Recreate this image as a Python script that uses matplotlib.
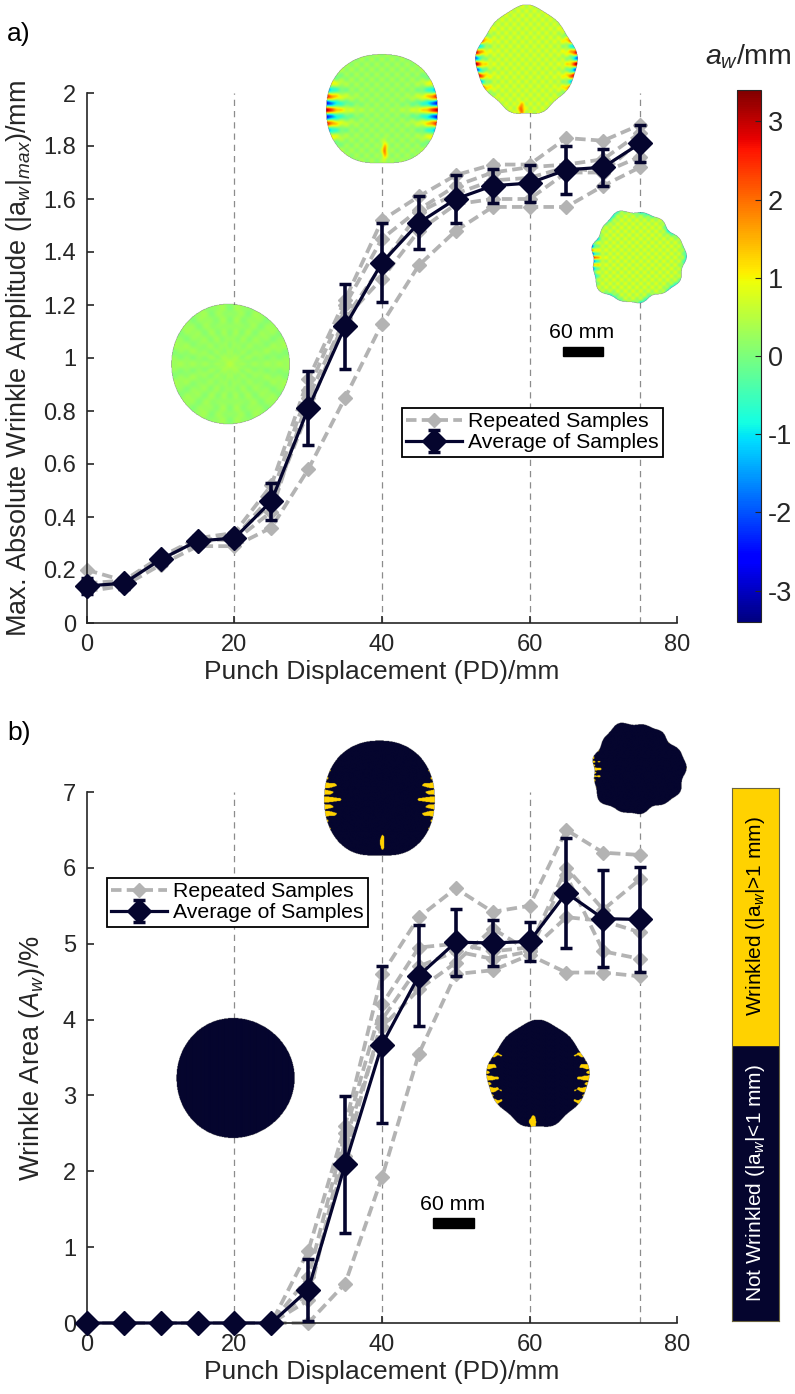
"""Wrinkle amplitude / wrinkle area vs punch displacement."""
import numpy as np
import matplotlib
matplotlib.use("Agg")
import matplotlib.pyplot as plt
from matplotlib.cm import ScalarMappable
from matplotlib.colors import ListedColormap, Normalize
from matplotlib.patches import Rectangle

# ---- data -------------------------------------------------------------
pd_mm = [0, 5, 10, 15, 20, 25, 30, 35, 40, 45, 50, 55, 60, 65, 70, 75]

amp_mean = [0.14, 0.15, 0.24, 0.31, 0.32, 0.46, 0.81, 1.12, 1.36, 1.51,
            1.60, 1.65, 1.66, 1.71, 1.72, 1.81]
amp_err = [0.03, 0.02, 0.02, 0.02, 0.02, 0.07, 0.14, 0.16, 0.15, 0.10,
           0.09, 0.065, 0.07, 0.09, 0.07, 0.07]
amp_s1 = [0.20, 0.16, 0.25, 0.32, 0.34, 0.52, 0.92, 1.22, 1.52, 1.61,
          1.69, 1.73, 1.73, 1.83, 1.82, 1.88]
amp_s2 = [0.12, 0.14, 0.22, 0.29, 0.29, 0.36, 0.58, 0.85, 1.13, 1.35,
          1.48, 1.57, 1.57, 1.57, 1.65, 1.72]
amp_s3 = [0.14, 0.15, 0.24, 0.31, 0.32, 0.48, 0.88, 1.20, 1.45, 1.56,
          1.65, 1.70, 1.72, 1.73, 1.75, 1.85]
amp_s4 = [0.13, 0.15, 0.25, 0.30, 0.33, 0.45, 0.80, 1.15, 1.30, 1.48,
          1.58, 1.60, 1.60, 1.70, 1.70, 1.76]
amp_s5 = [0.15, 0.16, 0.24, 0.32, 0.31, 0.42, 0.85, 1.15, 1.35, 1.55,
          1.62, 1.67, 1.68, 1.72, 1.70, 1.82]

area_mean = [0, 0, 0, 0, 0, 0, 0.44, 2.09, 3.67, 4.58, 5.02, 5.01, 5.03,
             5.67, 5.33, 5.32]
area_err = [0, 0, 0, 0, 0, 0, 0.41, 0.90, 1.04, 0.67, 0.44, 0.30, 0.26,
            0.72, 0.64, 0.69]
area_s1 = [0, 0, 0, 0, 0, 0, 0.95, 2.6, 4.6, 5.35, 5.73, 5.42, 5.5, 6.5, 6.2, 6.17]
area_s2 = [0, 0, 0, 0, 0, 0, 0.0, 0.52, 1.92, 3.55, 4.6, 4.65, 4.85, 4.62, 4.62, 4.57]
area_s3 = [0, 0, 0, 0, 0, 0, 0.6, 2.5, 4.2, 4.95, 5.0, 4.9, 4.95, 6.0, 5.45, 5.85]
area_s4 = [0, 0, 0, 0, 0, 0, 0.4, 2.2, 4.0, 4.7, 4.9, 4.8, 4.9, 5.9, 4.9, 4.8]
area_s5 = [0, 0, 0, 0, 0, 0, 0.3, 2.4, 3.9, 4.4, 4.75, 5.2, 4.9, 5.35, 5.3, 5.15]

guide_pd = [20, 40, 60, 75]

NAVY = "#05052e"
GOLD = "#ffd200"
GREY = "#b3b3b3"
TXT = "#262626"

W, H = 795, 1394

plt.rcParams.update({
    "font.family": ["Liberation Sans", "DejaVu Sans"],
    "mathtext.fontset": "custom",
    "mathtext.rm": "Liberation Sans",
    "mathtext.it": "Liberation Sans:italic",
    "axes.unicode_minus": False,
})

fig = plt.figure(figsize=(W / 100, H / 100), dpi=100)


def px_axes(left, top, width, height):
    return fig.add_axes([left / W, 1 - (top + height) / H, width / W, height / H])


# ---- disc snapshots (synthetic wrinkle fields) ------------------------
def grid(n=260):
    g = np.linspace(-1.08, 1.08, n)
    x, y = np.meshgrid(g, -g)
    return x, y, np.hypot(x, y), np.arctan2(y, x)


def hatch(x, y, k, a):
    return a * np.cos(k * x) * np.cos(k * y)


def field_pd20():
    x, y, r, th = grid()
    R = 1 + 0.01 * np.cos(3 * th)
    v = (0.22 + 0.10 * np.cos(18 * th) * r + 0.22 * np.exp(-r ** 2 / 0.02)
         + hatch(x, y, 30, 0.06))
    return np.where(r <= R, v, np.nan)


def field_pd40():
    x, y, r, th = grid()
    R = 0.99 / (np.abs(np.cos(th)) ** 2.2 + np.abs(np.sin(th)) ** 2.2) ** (1 / 2.2)
    R = np.minimum(R, 1.04) - 0.05 * np.exp(-(th + np.pi / 2) ** 2 / 0.15)
    edge = np.exp(-(R - r) / 0.2)
    side = np.abs(np.cos(th)) ** 10
    v = (0.25 + hatch(x, y, 35, 0.15)
         + 3.2 * edge * side * np.cos(26 * y)
         + 1.6 * np.exp(-((x - 0.05) ** 2 / 0.002 + (y + 0.72) ** 2 / 0.02)))
    return np.where(r <= R, v, np.nan)


def field_pd60():
    x, y, r, th = grid()
    R = (0.95 + 0.04 * np.cos(4 * th) + 0.05 * np.sin(th)
         - 0.05 * np.exp(-(th + np.pi / 2) ** 2 / 0.1) + 0.015 * np.sin(9 * th))
    edge = np.exp(-(R - r) / 0.1)
    side = np.abs(np.cos(th)) ** 8
    v = (0.6 + hatch(x, y, 40, 0.22)
         + 3.0 * edge * side * np.cos(30 * y)
         + 1.5 * np.exp(-((x + 0.1) ** 2 / 0.003 + (y + 0.8) ** 2 / 0.01)))
    return np.where(r <= R, v, np.nan)


def field_pd75():
    x, y, r, th = grid()
    R = (0.95 + 0.05 * np.cos(3 * th + 0.5) + 0.03 * np.sin(7 * th)
         + 0.02 * np.cos(13 * th))
    ring = np.exp(-(R - r) / 0.05)
    v = (0.6 + hatch(x, y, 40, 0.25)
         - 1.3 * ring * (0.7 + 0.5 * np.cos(9 * th))
         + 2.6 * np.exp(-(R - r) / 0.08) * np.exp(-(np.abs(th) - np.pi) ** 2 / 0.12)
         * np.cos(40 * y))
    return np.where(r <= R, v, np.nan)


fields = {20: field_pd20(), 40: field_pd40(), 60: field_pd60(), 75: field_pd75()}
norm = Normalize(-3.4, 3.4)
binary = ListedColormap([NAVY, GOLD])


def add_disc(pd, left, top, w, h, wrinkled=False):
    ax = px_axes(left, top, w, h)
    f = fields[pd]
    if wrinkled:
        img = np.where(np.isnan(f), np.nan, (np.abs(f) > 1).astype(float))
        ax.imshow(img, cmap=binary, vmin=0, vmax=1, interpolation="antialiased",
                  aspect="auto")
    else:
        ax.imshow(f, cmap="jet", norm=norm, interpolation="antialiased", aspect="auto")
    ax.axis("off")


# ---- panels -------------------------------------------------------------
def draw_panel(ax, mean, err, samples, ytop, yticks, ylabel):
    for xv in guide_pd:
        ax.axvline(xv, color="#8c8c8c", lw=0.9, ls=(0, (5, 4)), zorder=1)
    for i, s in enumerate(samples):
        ax.plot(pd_mm, s, color=GREY, ls=(0, (2.8, 1.4)), lw=2.7,
                marker="D", ms=7.5, mec=GREY, mfc=GREY, clip_on=False, zorder=2,
                label="Repeated Samples" if i == 0 else None)
    ax.errorbar(pd_mm, mean, yerr=err, color=NAVY, lw=2.3, marker="D", ms=12.5,
                capsize=4.5, capthick=2.5, elinewidth=2.6, clip_on=False,
                zorder=3, label="Average of Samples")
    ax.set_xlim(0, 80)
    ax.set_ylim(0, ytop)
    ax.set_xticks([0, 20, 40, 60, 80])
    ax.set_yticks(yticks)
    for side in ("top", "right"):
        ax.spines[side].set_visible(False)
    for side in ("left", "bottom"):
        ax.spines[side].set_color(TXT)
        ax.spines[side].set_linewidth(1.2)
    ax.tick_params(direction="in", length=5, width=1.2, colors=TXT,
                   labelsize=17, pad=8)
    ax.set_xlabel("Punch Displacement (PD)/mm", fontsize=19, color=TXT, labelpad=3)
    ax.set_ylabel(ylabel, fontsize=19.5, color=TXT)


def legend_at(ax, left, top):
    leg = ax.legend(loc="upper left", bbox_to_anchor=(left / W, 1 - top / H),
                    bbox_transform=fig.transFigure, borderaxespad=0,
                    fontsize=15.3, fancybox=False, framealpha=1, edgecolor="black",
                    borderpad=0.2, labelspacing=0.1, handlelength=2.6,
                    handletextpad=0.3)
    leg.get_frame().set_linewidth(1.3)


ax_a = px_axes(87, 93, 590, 530)
draw_panel(ax_a, amp_mean, amp_err, [amp_s1, amp_s2, amp_s3, amp_s4, amp_s5],
           2, np.round(np.arange(0, 2.01, 0.2), 1),
           r"Max. Absolute Wrinkle Amplitude (|a$_w$|$_{max}$)/mm")
ax_a.set_yticklabels(["0", "0.2", "0.4", "0.6", "0.8", "1", "1.2", "1.4",
                      "1.6", "1.8", "2"])
ax_a.yaxis.set_label_coords(-0.09, 0.5)
legend_at(ax_a, 402, 408)

ax_b = px_axes(87, 792, 590, 531)
draw_panel(ax_b, area_mean, area_err, [area_s1, area_s2, area_s3, area_s4, area_s5],
           7, range(0, 8), r"Wrinkle Area ($A_w$)/%")
ax_b.yaxis.set_label_coords(-0.068, 0.5)
legend_at(ax_b, 107, 878)

fig.text(7 / W, 1 - 34 / H, "a)", fontsize=19, va="center", ha="left")
fig.text(7 / W, 1 - 733 / H, "b)", fontsize=19, va="center", ha="left")

# discs, panel a (amplitude map)
add_disc(20, 166, 299, 128, 130)
add_disc(40, 321, 49, 122, 122)
add_disc(60, 471, 3, 111, 122)
add_disc(75, 584, 206, 106, 103)
# discs, panel b (wrinkled / not wrinkled)
add_disc(20, 171, 1013, 128, 130, wrinkled=True)
add_disc(40, 319, 735, 121, 129, wrinkled=True)
add_disc(75, 585, 718, 105, 102, wrinkled=True)
add_disc(60, 482, 1018, 112, 120, wrinkled=True)

# scale bars
for tx, ty, bx, by, bw, bh in ((582, 333, 563, 347, 40, 9),
                               (453, 1204, 433, 1218, 41, 10)):
    fig.text(tx / W, 1 - ty / H, "60 mm", fontsize=15.3, ha="center", va="center")
    fig.add_artist(Rectangle((bx / W, 1 - (by + bh) / H), bw / W, bh / H,
                             transform=fig.transFigure, color="black"))

# colour bar, panel a
cax = px_axes(737, 90, 24, 532)
cb = fig.colorbar(ScalarMappable(norm=norm, cmap="jet"), cax=cax,
                  ticks=range(-3, 4))
cb.outline.set_linewidth(0.8)
cb.outline.set_edgecolor(TXT)
cax.tick_params(direction="in", length=4, width=0.8, labelsize=19.5,
                colors=TXT, pad=5)
fig.text(748 / W, 1 - 57 / H, r"$a_w$/mm", fontsize=20.5, ha="center",
         va="center", color=TXT)

# two-class bar, panel b
kax = px_axes(732, 788, 47, 533)
split = 1 - (1045 - 788) / 533
kax.axhspan(0, split, color=NAVY)
kax.axhspan(split, 1, color=GOLD)
kax.set_xlim(0, 1)
kax.set_ylim(0, 1)
kax.set_xticks([])
kax.set_yticks([])
for sp in kax.spines.values():
    sp.set_color("#6b6440")
    sp.set_linewidth(0.8)
kax.text(0.5, (split + 1) / 2, r"Wrinkled (|a$_w$|>1 mm)", rotation=90,
         ha="center", va="center", fontsize=15, color="black")
kax.text(0.5, split / 2, r"Not Wrinkled (|a$_w$|<1 mm)", rotation=90,
         ha="center", va="center", fontsize=15, color="white")

fig.savefig("out.png", dpi=100)
